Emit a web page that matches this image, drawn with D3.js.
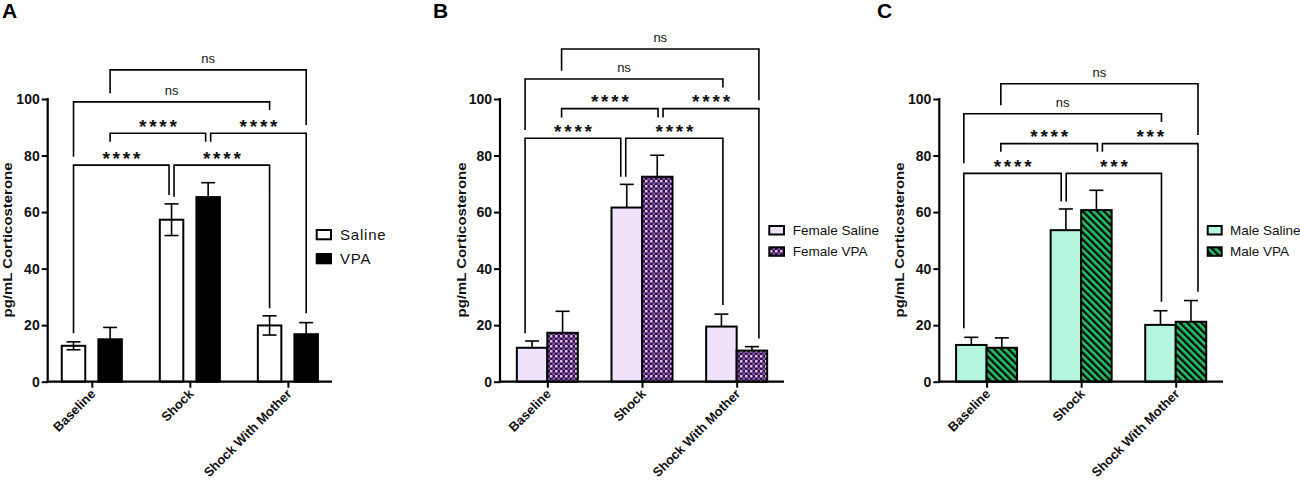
<!DOCTYPE html>
<html>
<head>
<meta charset="utf-8">
<script src="https://cdn.jsdelivr.net/npm/d3@7"></script>
<style>
  html, body { margin: 0; padding: 0; background: #fff; }
  svg { display: block; font-family: "Liberation Sans", Arial, sans-serif; }
</style>
</head>
<body>
<svg id="chart" width="1300" height="483"></svg>
<script>
// ---------------- DATA ----------------
const categories = ["Baseline", "Shock", "Shock With Mother"];
const yTicks = [0, 20, 40, 60, 80, 100];

// Panel A
const seriesA = ["Saline", "VPA"];
const salineMeanA = [12.7, 57.3, 19.9];
const salineSemA  = [1.4, 5.6, 3.4];
const vpaMeanA    = [15.0, 65.3, 16.8];
const vpaSemA     = [4.2, 5.1, 4.1];

// Panel B
const seriesB = ["Female Saline", "Female VPA"];
const salineMeanB = [12.0, 61.6, 19.5];
const salineSemB  = [2.4, 8.2, 4.4];
const vpaMeanB    = [17.3, 72.5, 11.0];
const vpaSemB     = [7.6, 7.6, 1.4];

// Panel C
const seriesC = ["Male Saline", "Male VPA"];
const salineMeanC = [13.0, 53.6, 20.1];
const salineSemC  = [2.7, 7.5, 5.0];
const vpaMeanC    = [12.0, 60.7, 21.2];
const vpaSemC     = [3.5, 7.0, 7.5];

// Comparisons: [group, series] -> [group, series]
const comparisons = [
  [[0, 0], [1, 0]],
  [[1, 0], [2, 0]],
  [[0, 1], [1, 1]],
  [[1, 1], [2, 1]],
  [[0, 0], [2, 0]],
  [[0, 1], [2, 1]]
];
const sigLabelsA = ["****", "****", "****", "****", "ns", "ns"];
const sigLabelsB = ["****", "****", "****", "****", "ns", "ns"];
const sigLabelsC = ["****", "***", "****", "***", "ns", "ns"];
// bracket heights and leg ends, in data units (pg/mL)
const levelA     = [76.6, 76.6, 87.9, 87.9, 99.0, 110.3];
const legLeftA   = [17.1, 65.4, 84.9, 84.9, 79.6, 102.0];
const legRightA  = [66.0, 26.0, 84.9, 24.2, 96.1, 90.8];
const levelB     = [86.1, 86.1, 96.6, 96.6, 107.1, 117.7];
const legLeftB   = [17.1, 72.5, 93.5, 93.5, 89.0, 110.0];
const legRightB  = [72.5, 27.1, 93.5, 15.3, 104.1, 99.6];
const levelC     = [73.7, 73.7, 84.2, 84.2, 94.8, 105.4];
const legLeftC   = [18.9, 63.7, 81.3, 81.3, 77.3, 97.8];
const legRightC  = [63.7, 28.3, 81.3, 31.8, 91.9, 87.3];

// ---------------- LAYOUT / STYLE ----------------
const svg = d3.select("#chart");
const defs = svg.append("defs");

// checker pattern (Female VPA)
const chk = defs.append("pattern").attr("id", "checker")
  .attr("patternUnits", "userSpaceOnUse").attr("width", 5).attr("height", 5);
chk.append("rect").attr("width", 5).attr("height", 5).attr("fill", "#2f1242");
chk.append("rect").attr("x", 0).attr("y", 0).attr("width", 2.5).attr("height", 2.5).attr("fill", "#dcbff2");
chk.append("rect").attr("x", 2.5).attr("y", 2.5).attr("width", 2.5).attr("height", 2.5).attr("fill", "#8354a8");

// diagonal hatch (Male VPA)
const hat = defs.append("pattern").attr("id", "hatch")
  .attr("patternUnits", "userSpaceOnUse").attr("width", 5).attr("height", 5)
  .attr("patternTransform", "rotate(-45)");
hat.append("rect").attr("width", 5).attr("height", 5).attr("fill", "#22c46c");
hat.append("rect").attr("width", 2.4).attr("height", 5).attr("fill", "#0a0a0a");

const panels = [
  {
    letter: "A", letterX: 2, x0: 47.7, x1: 332, pad: 0.45,
    barW: 23.5, barOff: [-18.3, 18.3], errBoth: [true, false],
    series: seriesA, means: [salineMeanA, vpaMeanA], sems: [salineSemA, vpaSemA],
    fills: ["#ffffff", "#000000"],
    labels: sigLabelsA, level: levelA, legL: legLeftA, legR: legRightA,
    nudge: [[0, 0], [0, 0], [0, 0]], share: 2.5,
    titleX: 11.5,
    legend: { x: 316.7, ys: [230, 254], w: 14.3, h: 9.3, tx: 340, fs: 15, spacing: 0.8 }
  },
  {
    letter: "B", letterX: 433, x0: 500, x1: 784, pad: 0.5,
    barW: 30.5, barOff: [-15.25, 15.25], errBoth: [false, false],
    series: seriesB, means: [salineMeanB, vpaMeanB], sems: [salineSemB, vpaSemB],
    fills: ["#f0e2fb", "url(#checker)"],
    labels: sigLabelsB, level: levelB, legL: legLeftB, legR: legRightB,
    nudge: [[-7, -1], [-3.5, 3.3], [1.5, 7]], share: 2.5,
    titleX: 465.5,
    legend: { x: 769.3, ys: [226, 247.3], w: 14.7, h: 8.5, tx: 792.7, fs: 13.5, spacing: 0 }
  },
  {
    letter: "C", letterX: 877, x0: 939.3, x1: 1223, pad: 0.5,
    barW: 30.5, barOff: [-15.25, 15.25], errBoth: [false, false],
    series: seriesC, means: [salineMeanC, vpaMeanC], sems: [salineSemC, vpaSemC],
    fills: ["#b4f6dd", "url(#hatch)"],
    labels: sigLabelsC, level: levelC, legL: legLeftC, legR: legRightC,
    nudge: [[-7.5, -1], [-2.2, 3.5], [1, 7]], share: 2.5,
    titleX: 904,
    legend: { x: 1207.7, ys: [226, 247.3], w: 14, h: 8.5, tx: 1230, fs: 13.5, spacing: 0 }
  }
];

const y = d3.scaleLinear().domain([0, 100]).range([381.7, 99]);

panels.forEach(p => {
  const g = svg.append("g");
  const x = d3.scalePoint().domain(categories).range([p.x0, p.x1]).padding(p.pad);

  // bars
  p.series.forEach((s, si) => {
    const rows = categories.map((c, ci) => ({ c, ci, m: p.means[si][ci], e: p.sems[si][ci] }));
    g.selectAll(null).data(rows).enter().append("rect")
      .attr("x", d => x(d.c) + p.barOff[si] - p.barW / 2)
      .attr("y", d => y(d.m))
      .attr("width", p.barW)
      .attr("height", d => y(0) - y(d.m))
      .attr("fill", p.fills[si])
      .attr("stroke", "#000").attr("stroke-width", 2);
    // error bars
    rows.forEach(d => {
      const cx = x(d.c) + p.barOff[si];
      const lo = p.errBoth[si] ? d.m - d.e : d.m;
      const eg = g.append("g").attr("stroke", "#000").attr("stroke-width", 1.6);
      eg.append("line").attr("x1", cx).attr("x2", cx).attr("y1", y(lo)).attr("y2", y(d.m + d.e));
      eg.append("line").attr("x1", cx - 7).attr("x2", cx + 7).attr("y1", y(d.m + d.e)).attr("y2", y(d.m + d.e));
      if (p.errBoth[si]) {
        eg.append("line").attr("x1", cx - 7).attr("x2", cx + 7).attr("y1", y(lo)).attr("y2", y(lo));
      }
    });
  });

  // axes
  const yAxis = g.append("g").attr("transform", `translate(${p.x0},0)`)
    .call(d3.axisLeft(y).tickValues(yTicks).tickSize(6).tickSizeOuter(0).tickPadding(2));
  const xAxis = g.append("g").attr("transform", `translate(0,${y(0)})`)
    .call(d3.axisBottom(x).tickSize(6).tickSizeOuter(0));
  [yAxis, xAxis].forEach(a => {
    a.select(".domain").attr("stroke", "#000").attr("stroke-width", 2.2);
    a.selectAll(".tick line").attr("stroke", "#000").attr("stroke-width", 2);
  });
  yAxis.select(".domain").attr("d", `M0,${y(0) + 1.1}V${y(100) - 1}`);
  xAxis.select(".domain").attr("d", `M${p.x0 - 1.1},0H${p.x1}`);
  yAxis.selectAll(".tick text").attr("font-size", 14).attr("font-weight", "bold")
    .attr("font-family", "Liberation Sans, Arial, sans-serif").attr("fill", "#111");
  xAxis.selectAll(".tick text")
    .attr("font-size", 13).attr("font-weight", "bold")
    .attr("font-family", "Liberation Sans, Arial, sans-serif").attr("fill", "#111")
    .attr("text-anchor", "end")
    .attr("y", 0).attr("dy", 0)
    .attr("transform", "translate(4,13) rotate(-45)");

  // y title
  g.append("text")
    .attr("transform", `translate(${p.titleX},240) rotate(-90)`)
    .attr("text-anchor", "middle")
    .attr("font-size", 13).attr("font-weight", "bold")
    .attr("textLength", 155).attr("lengthAdjust", "spacingAndGlyphs")
    .attr("fill", "#111")
    .text("pg/mL Corticosterone");

  // panel letter
  g.append("text").attr("x", p.letterX).attr("y", 18)
    .attr("font-size", 21).attr("font-weight", "bold").text(p.letter);

  // significance brackets
  const legX = (end, isRight) => {
    const [gi, si] = end;
    let n = p.nudge[gi][si];
    if (gi === 1) n += isRight ? -p.share : p.share;
    return x(categories[gi]) + p.barOff[si] + n;
  };
  comparisons.forEach((cmp, k) => {
    const xl = legX(cmp[0], false);
    const xr = legX(cmp[1], true);
    const yl = y(p.level[k]);
    g.append("path")
      .attr("d", `M${xl},${y(p.legL[k])}V${yl}H${xr}V${y(p.legR[k])}`)
      .attr("fill", "none").attr("stroke", "#000").attr("stroke-width", 1.6);
    const lab = p.labels[k];
    const isNs = lab === "ns";
    g.append("text")
      .attr("x", (xl + xr) / 2 + (isNs ? 0 : 1.5))
      .attr("y", isNs ? yl - 6.5 : yl - 0.5)
      .attr("text-anchor", "middle")
      .attr("font-size", isNs ? 13 : 19)
      .attr("font-weight", isNs ? "normal" : "bold")
      .attr("letter-spacing", isNs ? 0 : 2.8)
      .attr("fill", "#111")
      .text(lab);
  });

  // legend
  const L = p.legend;
  p.series.forEach((s, si) => {
    g.append("rect").attr("x", L.x).attr("y", L.ys[si]).attr("width", L.w).attr("height", L.h)
      .attr("fill", p.fills[si]).attr("stroke", "#000").attr("stroke-width", 2);
    g.append("text").attr("x", L.tx).attr("y", L.ys[si] + L.h / 2 + L.fs * 0.36)
      .attr("font-size", L.fs).attr("letter-spacing", L.spacing).attr("fill", "#111").text(s);
  });
});
</script>
</body>
</html>
